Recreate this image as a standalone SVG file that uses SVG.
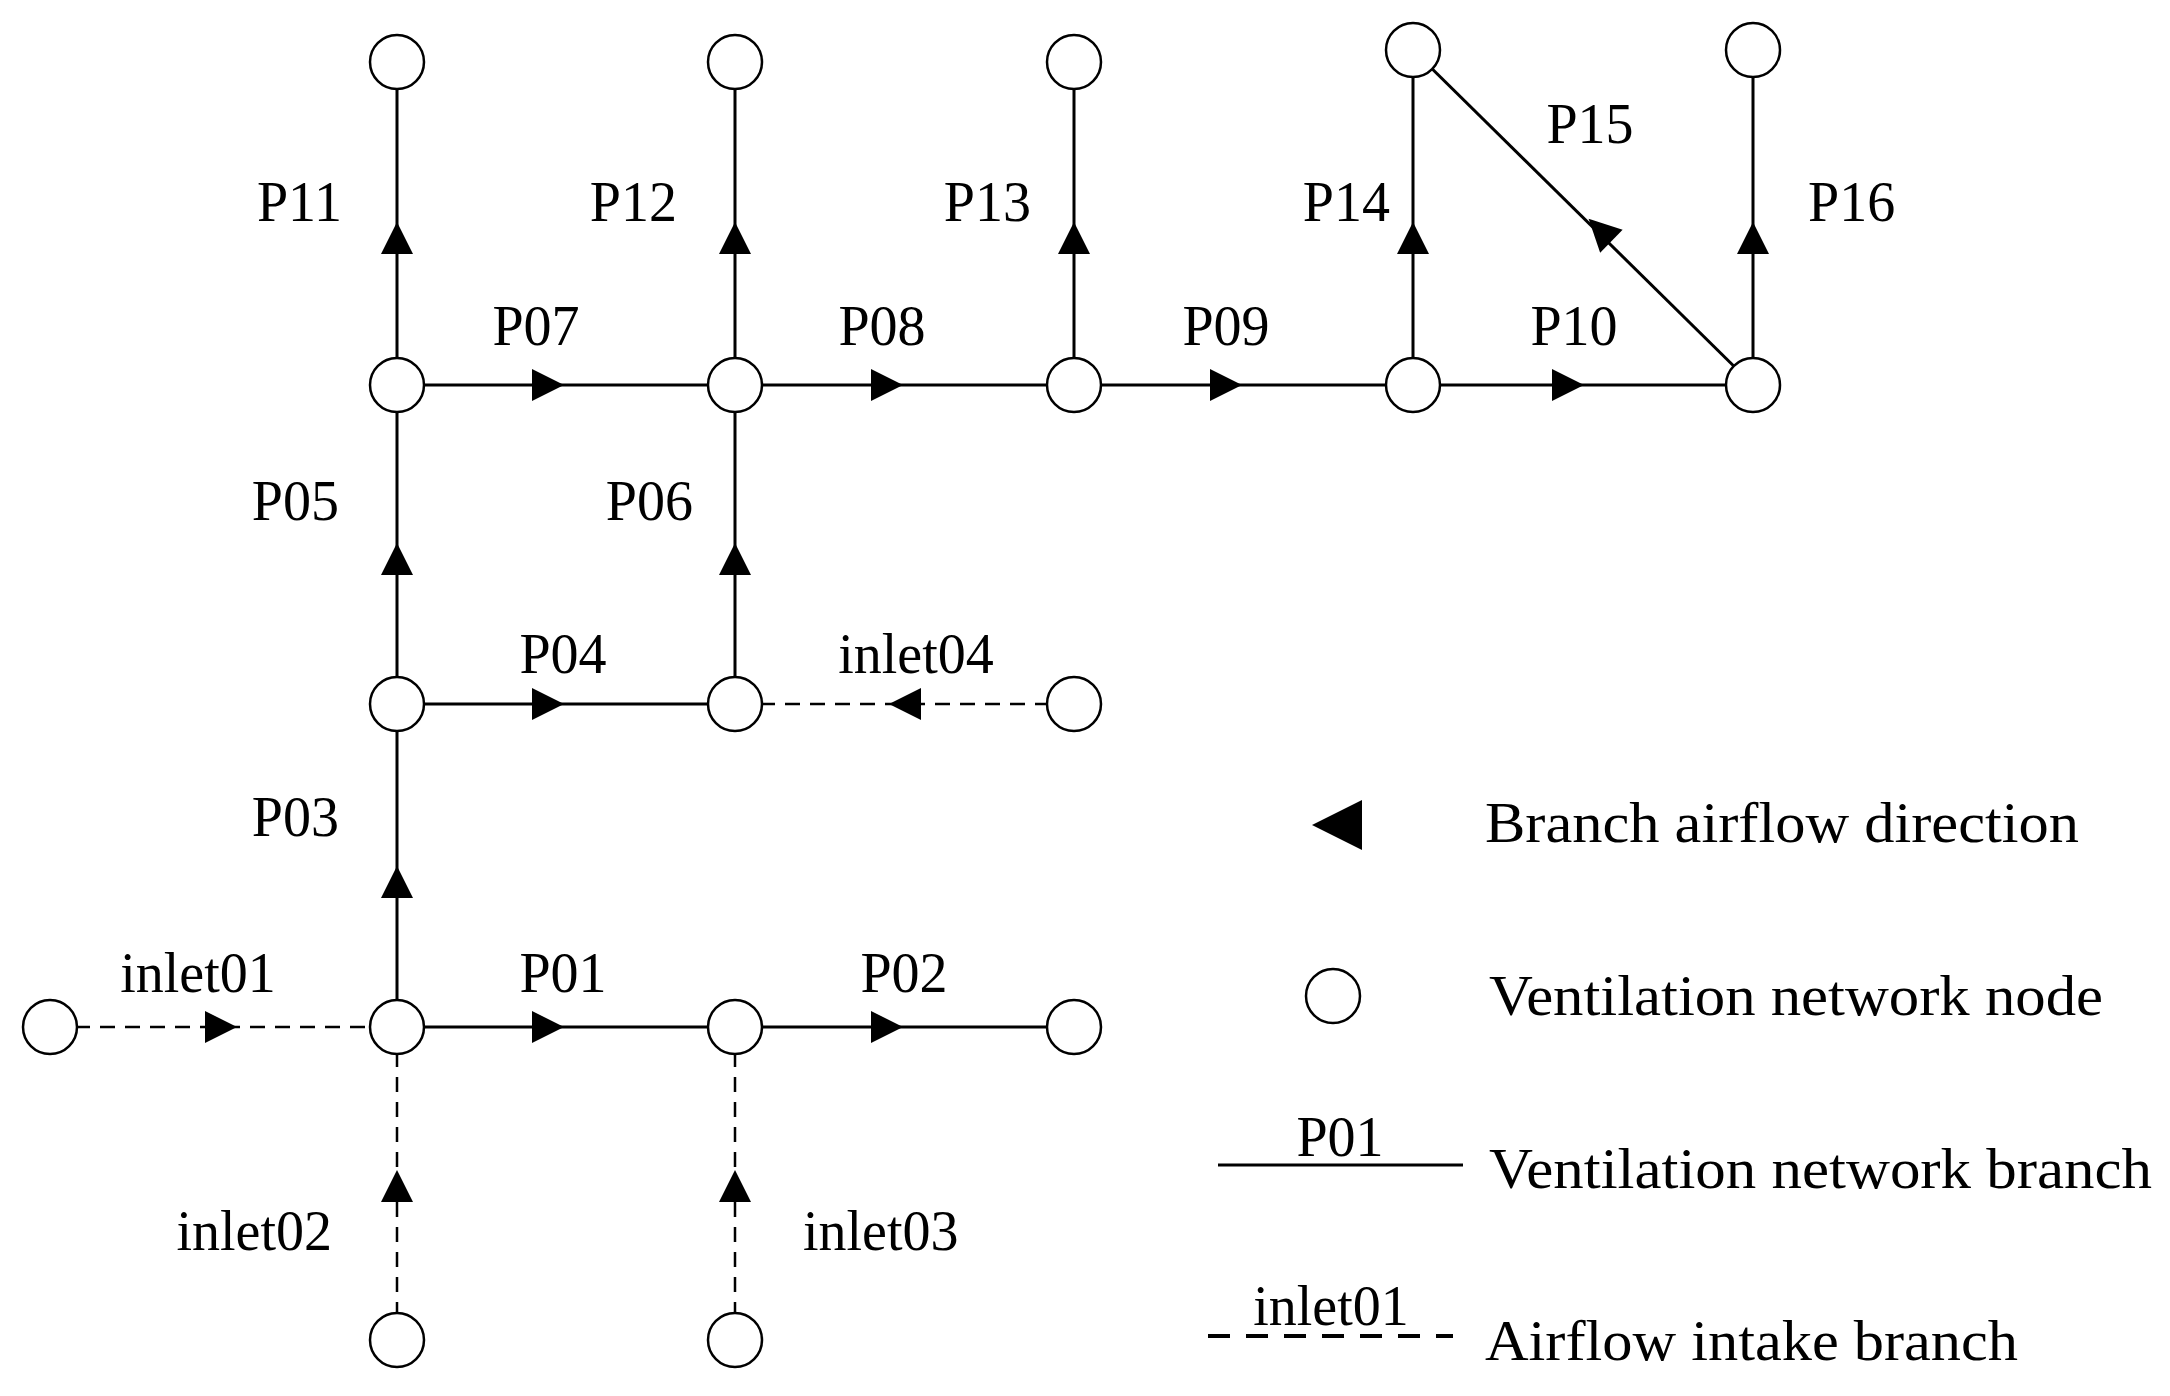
<svg xmlns="http://www.w3.org/2000/svg" width="2170" height="1396" viewBox="0 0 2170 1396">
<style>
.n{fill:#fff;stroke:#000;stroke-width:2.5}
.b{stroke:#000;stroke-width:3;fill:none}
.d{stroke:#000;stroke-width:2.5;fill:none;stroke-dasharray:15 10}
text{font-family:"Liberation Serif",serif;font-size:56px;fill:#000}
.m{text-anchor:middle}.e{text-anchor:end}
</style>
<defs><path id="a" d="M-16,-16 L16,0 L-16,16 Z" fill="#000"/></defs>
<g id="connectors">
<line class="b" x1="397" y1="62" x2="397" y2="1027"/>
<line class="b" x1="735" y1="62" x2="735" y2="704"/>
<line class="b" x1="1074" y1="62" x2="1074" y2="385"/>
<line class="b" x1="1413" y1="50" x2="1413" y2="385"/>
<line class="b" x1="1753" y1="50" x2="1753" y2="385"/>
<line class="b" x1="397" y1="385" x2="1753" y2="385"/>
<line class="b" x1="397" y1="704" x2="735" y2="704"/>
<line class="b" x1="397" y1="1027" x2="1074" y2="1027"/>
<line class="b" x1="1753" y1="385" x2="1413" y2="50" stroke-width="3.5"/>
<line class="d" x1="50" y1="1027" x2="397" y2="1027"/>
<line class="d" x1="735" y1="704" x2="1074" y2="704"/>
<line class="d" x1="397" y1="1027" x2="397" y2="1340"/>
<line class="d" x1="735" y1="1027" x2="735" y2="1340"/>
<use href="#a" transform="translate(397,238) rotate(-90)"/>
<use href="#a" transform="translate(735,238) rotate(-90)"/>
<use href="#a" transform="translate(1074,238) rotate(-90)"/>
<use href="#a" transform="translate(1413,238) rotate(-90)"/>
<use href="#a" transform="translate(1753,238) rotate(-90)"/>
<use href="#a" transform="translate(397,559) rotate(-90)"/>
<use href="#a" transform="translate(735,559) rotate(-90)"/>
<use href="#a" transform="translate(397,882) rotate(-90)"/>
<use href="#a" transform="translate(397,1186) rotate(-90)"/>
<use href="#a" transform="translate(735,1186) rotate(-90)"/>
<use href="#a" transform="translate(548,385)"/>
<use href="#a" transform="translate(887,385)"/>
<use href="#a" transform="translate(1226,385)"/>
<use href="#a" transform="translate(1568,385)"/>
<use href="#a" transform="translate(548,704)"/>
<use href="#a" transform="translate(548,1027)"/>
<use href="#a" transform="translate(887,1027)"/>
<use href="#a" transform="translate(221,1027)"/>
<use href="#a" transform="translate(905,704) rotate(180)"/>
<use href="#a" transform="translate(1600,230) rotate(-135.4)"/>
</g>
<g id="nodes">
<circle class="n" cx="397" cy="62" r="27"/><circle class="n" cx="735" cy="62" r="27"/><circle class="n" cx="1074" cy="62" r="27"/>
<circle class="n" cx="1413" cy="50" r="27"/><circle class="n" cx="1753" cy="50" r="27"/>
<circle class="n" cx="397" cy="385" r="27"/><circle class="n" cx="735" cy="385" r="27"/><circle class="n" cx="1074" cy="385" r="27"/><circle class="n" cx="1413" cy="385" r="27"/><circle class="n" cx="1753" cy="385" r="27"/>
<circle class="n" cx="397" cy="704" r="27"/><circle class="n" cx="735" cy="704" r="27"/><circle class="n" cx="1074" cy="704" r="27"/>
<circle class="n" cx="50" cy="1027" r="27"/><circle class="n" cx="397" cy="1027" r="27"/><circle class="n" cx="735" cy="1027" r="27"/><circle class="n" cx="1074" cy="1027" r="27"/>
<circle class="n" cx="397" cy="1340" r="27"/><circle class="n" cx="735" cy="1340" r="27"/>
</g>
<g id="labels">
<text class="e" x="342" y="221">P11</text>
<text class="e" x="677" y="221">P12</text>
<text class="e" x="1031" y="221">P13</text>
<text class="e" x="1390" y="221">P14</text>
<text class="m" x="1590" y="143">P15</text>
<text x="1808" y="221">P16</text>
<text class="m" x="536" y="345">P07</text>
<text class="m" x="882" y="345">P08</text>
<text class="m" x="1226" y="345">P09</text>
<text class="m" x="1574" y="345">P10</text>
<text class="e" x="339" y="520">P05</text>
<text class="e" x="693" y="520">P06</text>
<text class="m" x="563" y="673">P04</text>
<text class="m" x="916" y="673">inlet04</text>
<text class="e" x="339" y="836">P03</text>
<text class="m" x="198" y="992">inlet01</text>
<text class="m" x="563" y="992">P01</text>
<text class="m" x="904" y="992">P02</text>
<text class="e" x="332" y="1250">inlet02</text>
<text x="803" y="1250">inlet03</text>
</g>
<g id="legend">
<path d="M1362,800 L1312,825 L1362,850 Z" fill="#000"/>
<text x="1485" y="842" textLength="594" lengthAdjust="spacingAndGlyphs">Branch airflow direction</text>
<circle class="n" cx="1333" cy="996" r="27"/>
<text x="1489" y="1015" textLength="614" lengthAdjust="spacingAndGlyphs">Ventilation network node</text>
<line class="b" x1="1218" y1="1165" x2="1463" y2="1165" stroke-width="4"/>
<text class="m" x="1340" y="1156">P01</text>
<text x="1489" y="1188" textLength="663" lengthAdjust="spacingAndGlyphs">Ventilation network branch</text>
<line x1="1208" y1="1336" x2="1453" y2="1336" stroke="#000" stroke-width="4" stroke-dasharray="22 16"/>
<text class="m" x="1331" y="1325">inlet01</text>
<text x="1485" y="1360" textLength="533" lengthAdjust="spacingAndGlyphs">Airflow intake branch</text>
</g>
</svg>
